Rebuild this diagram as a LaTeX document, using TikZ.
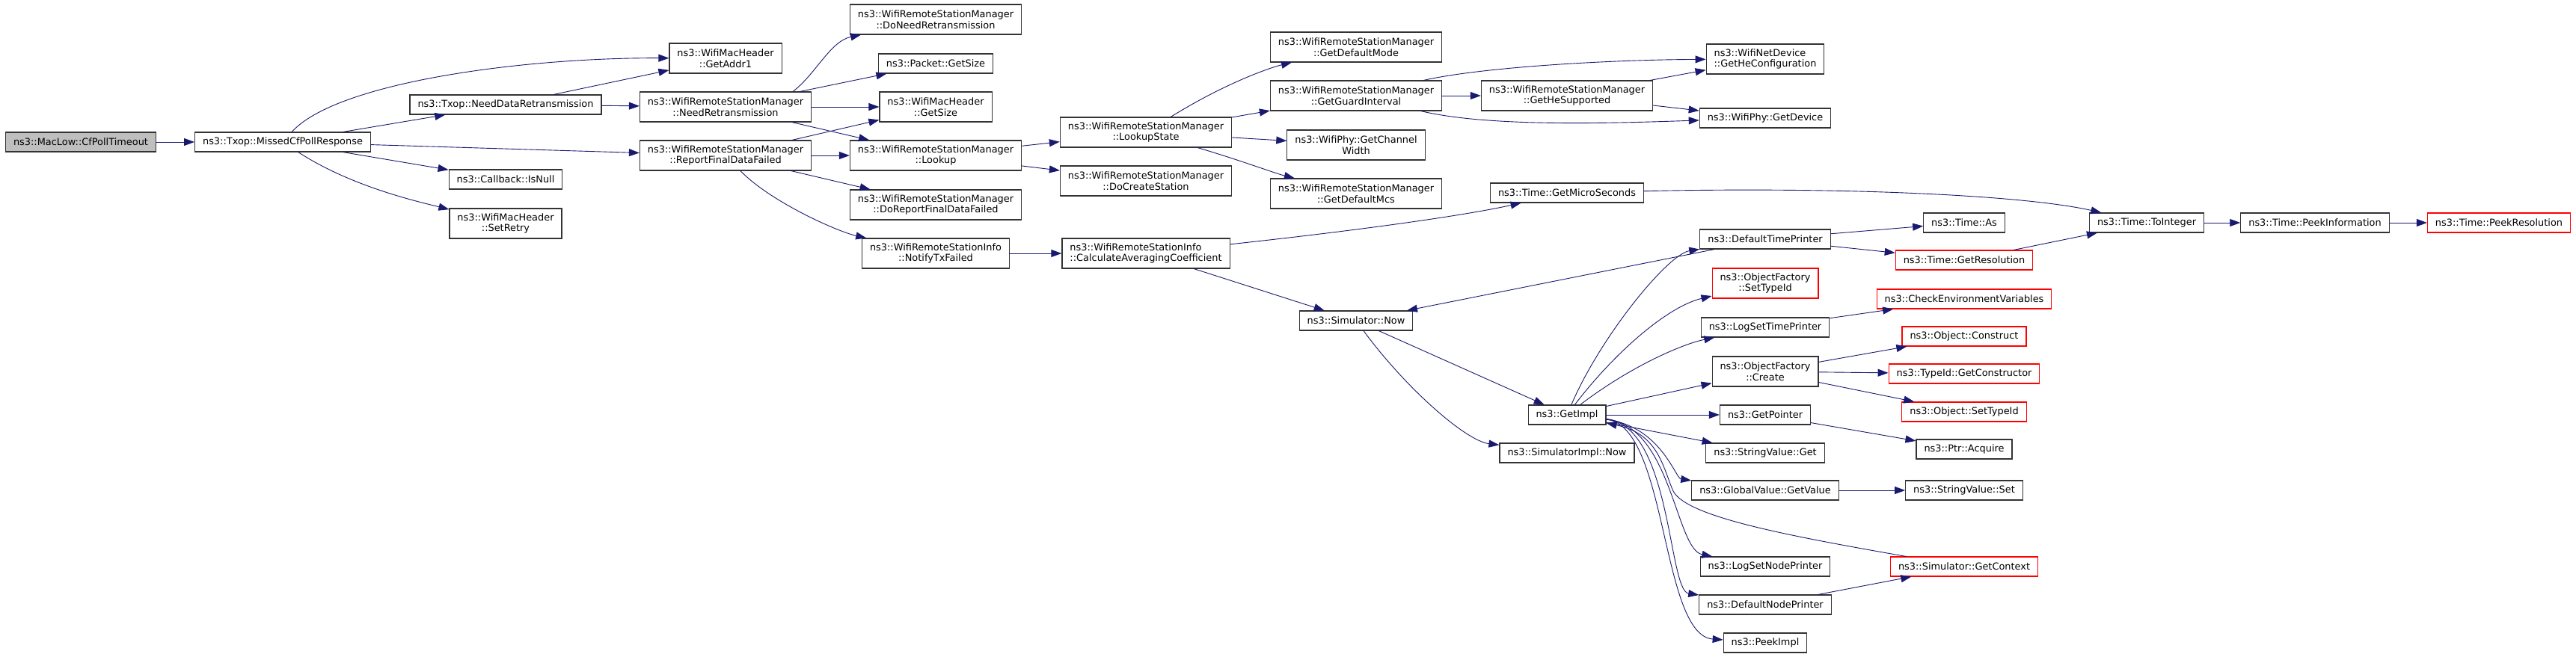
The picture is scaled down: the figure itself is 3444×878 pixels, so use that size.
\documentclass[tikz,border=0pt]{standalone}
\usepackage{fontspec}
\newfontfamily\graphfont{DejaVu Sans}
\usepackage{tikz}
\usetikzlibrary{arrows.meta, positioning}
\usepackage{xcolor}
\definecolor{edgeblue}{RGB}{25,25,112}

\begin{document}
\begin{tikzpicture}[x=1pt, y=-1pt,
        every node/.style={rectangle, draw=black!80, line width=1.1pt, fill=white, minimum height=26pt,
          inner xsep=10.5pt, inner ysep=1pt, align=center, font=\graphfont\fontsize{12.9}{14.8}\selectfont},
        two/.style={minimum height=40pt},
        trunc/.style={draw=red},
        call/.style={edgeblue, line width=0.9pt, -{Triangle[length=14pt, width=10pt]}}
      ]
      \useasboundingbox (0,0) rectangle (3444,878);
      \node[fill=black!25] (A1) at (108,190)  {ns3::MacLow::CfPollTimeout};
      \node                (B1) at (378,190)  {ns3::Txop::MissedCfPollResponse};
      \node                (C1) at (676,140)  {ns3::Txop::NeedDataRetransmission};
      \node                (C2) at (676,240)  {ns3::Callback::IsNull};
      \node[two]           (C3) at (676,299)  {ns3::WifiMacHeader\\::SetRetry};
      \node[two]           (D1) at (970,78)   {ns3::WifiMacHeader\\::GetAddr1};
      \node[two]           (D2) at (970,143)  {ns3::WifiRemoteStationManager\\::NeedRetransmission};
      \node[two]           (D3) at (970,208)  {ns3::WifiRemoteStationManager\\::ReportFinalDataFailed};
      \node[two]           (E1) at (1251,26)  {ns3::WifiRemoteStationManager\\::DoNeedRetransmission};
      \node                (E2) at (1251,85)  {ns3::Packet::GetSize};
      \node[two]           (E3) at (1251,143) {ns3::WifiMacHeader\\::GetSize};
      \node[two]           (E4) at (1251,208) {ns3::WifiRemoteStationManager\\::Lookup};
      \node[two]           (E5) at (1251,274) {ns3::WifiRemoteStationManager\\::DoReportFinalDataFailed};
      \node[two]           (E6) at (1251,339) {ns3::WifiRemoteStationInfo\\::NotifyTxFailed};
      \node[two]           (F1) at (1532,177) {ns3::WifiRemoteStationManager\\::LookupState};
      \node[two]           (F2) at (1532,242) {ns3::WifiRemoteStationManager\\::DoCreateStation};
      \node[two, align=left] (F3) at (1532,339) {ns3::WifiRemoteStationInfo\\::CalculateAveragingCoefficient};
      \node[two]           (G1) at (1813,63)  {ns3::WifiRemoteStationManager\\::GetDefaultMode};
      \node[two]           (G2) at (1813,128) {ns3::WifiRemoteStationManager\\::GetGuardInterval};
      \node[two]           (G3) at (1813,194) {ns3::WifiPhy::GetChannel\\Width};
      \node[two]           (G4) at (1813,259) {ns3::WifiRemoteStationManager\\::GetDefaultMcs};
      \node                (G5) at (1813,429) {ns3::Simulator::Now};
      \node[two]           (H1) at (2095,128) {ns3::WifiRemoteStationManager\\::GetHeSupported};
      \node                (H2) at (2095,258) {ns3::Time::GetMicroSeconds};
      \node                (H3) at (2095,555) {ns3::GetImpl};
      \node                (H4) at (2095,606) {ns3::SimulatorImpl::Now};
      \node[two, align=left] (I1) at (2360,79) {ns3::WifiNetDevice\\::GetHeConfiguration};
      \node                (I2) at (2360,158) {ns3::WifiPhy::GetDevice};
      \node                (I3) at (2360,320) {ns3::DefaultTimePrinter};
      \node[two, trunc]    (I4) at (2360,379) {ns3::ObjectFactory\\::SetTypeId};
      \node                (I5) at (2360,438) {ns3::LogSetTimePrinter};
      \node[two]           (I6) at (2360,497) {ns3::ObjectFactory\\::Create};
      \node                (I7) at (2360,555) {ns3::GetPointer};
      \node                (I8) at (2360,606) {ns3::StringValue::Get};
      \node                (I9) at (2360,656) {ns3::GlobalValue::GetValue};
      \node                (I10) at (2360,758) {ns3::LogSetNodePrinter};
      \node                (I11) at (2360,809) {ns3::DefaultNodePrinter};
      \node                (I12) at (2360,860) {ns3::PeekImpl};
      \node                (J1) at (2626,298) {ns3::Time::As};
      \node[trunc]         (J2) at (2626,348) {ns3::Time::GetResolution};
      \node[trunc]         (J3) at (2626,400) {ns3::CheckEnvironmentVariables};
      \node[trunc]         (J4) at (2626,450) {ns3::Object::Construct};
      \node[trunc]         (J5) at (2626,500) {ns3::TypeId::GetConstructor};
      \node[trunc]         (J6) at (2626,551) {ns3::Object::SetTypeId};
      \node                (J7) at (2626,601) {ns3::Ptr::Acquire};
      \node                (J8) at (2626,656) {ns3::StringValue::Set};
      \node[trunc]         (J9) at (2626,758) {ns3::Simulator::GetContext};
      \node                (K1) at (2870,298) {ns3::Time::ToInteger};
      \node                (L1) at (3095,298) {ns3::Time::PeekInformation};
      \node[trunc]         (M1) at (3341,298) {ns3::Time::PeekResolution};
      % left part
      \draw[call] (A1) -- (B1);
      \draw[call] (B1) .. controls (450,110) and (700,77) .. (D1);
      \draw[call] (B1) -- (C1);
      \draw[call] (B1) -- (D3);
      \draw[call] (B1) -- (C2);
      \draw[call] (B1) .. controls (470,250) and (560,270) .. (C3);
      \draw[call] (C1) -- (D1);
      \draw[call] (C1) -- (D2);
      \draw[call] ([xshift=90pt]D2.north) .. controls (1090,100) and (1110,55) .. (E1);
      \draw[call] (D2) -- (E2);
      \draw[call] (D2) -- (E3);
      \draw[call] (D2) -- (E4);
      \draw[call] (D3) -- (E3);
      \draw[call] (D3) -- (E4);
      \draw[call] (D3) -- (E5);
      \draw[call] (D3) .. controls (1030,270) and (1120,310) .. (E6);
      \draw[call] (E4) -- (F1);
      \draw[call] (E4) -- (F2);
      \draw[call] (F1) .. controls (1640,110) and (1700,90) .. (G1);
      \draw[call] (F1) -- (G2);
      \draw[call] (F1) -- (G3);
      \draw[call] (F1) .. controls (1660,215) and (1705,232) .. (G4);
      \draw[call] (G2) -- (H1);
      \draw[call] (G2) .. controls (1980,90) and (2150,80) .. (I1);
      \draw[call] (G2) .. controls (1990,170) and (2150,165) .. (I2);
      \draw[call] (H1) -- (I1);
      \draw[call] (H1) -- (I2);
      \draw[call] (E6) -- (F3);
      \draw[call] (F3) .. controls (1800,310) and (1950,290) .. (H2);
      \draw[call] (F3) -- (G5);
      \draw[call] (H2) .. controls (2450,250) and (2700,260) .. (K1);
      % simulator part
      \draw[call] (G5) -- (H3);
      \draw[call] (G5) .. controls (1880,520) and (1960,590) .. (H4);
      \draw[call] (I3) -- (G5);
      \draw[call] (H3) .. controls (2140,450) and (2230,340) .. (I3);
      \draw[call] (H3) .. controls (2160,470) and (2230,410) .. (I4);
      \draw[call] (H3) .. controls (2180,490) and (2250,460) .. (I5);
      \draw[call] (H3) -- (I6);
      \draw[call] (H3) -- (I7);
      \draw[call] (H3) -- (I8);
      \draw[call] (H3) .. controls (2220,570) and (2240,640) .. (I9);
      \draw[call] (H3) .. controls (2235,570) and (2240,735) .. (I10);
      \draw[call] (H3) .. controls (2235,570) and (2230,790) .. (I11);
      \draw[call] (H3) .. controls (2230,570) and (2220,850) .. (I12);
      \draw[call] (J9) .. controls (2380,715) and (2250,690) .. (2236,655)
                       .. controls (2222,620) and (2215,580) .. (H3);
      \draw[call] (I3) -- (J1);
      \draw[call] (I3) -- (J2);
      \draw[call] (J2) -- (K1);
      \draw[call] (K1) -- (L1);
      \draw[call] (L1) -- (M1);
      \draw[call] (I5) -- (J3);
      \draw[call] (I6) -- (J4);
      \draw[call] (I6) -- (J5);
      \draw[call] (I6) -- (J6);
      \draw[call] (I7) -- (J7);
      \draw[call] (I9) -- (J8);
      \draw[call] (I11) -- (J9);
    \end{tikzpicture}
\end{document}
